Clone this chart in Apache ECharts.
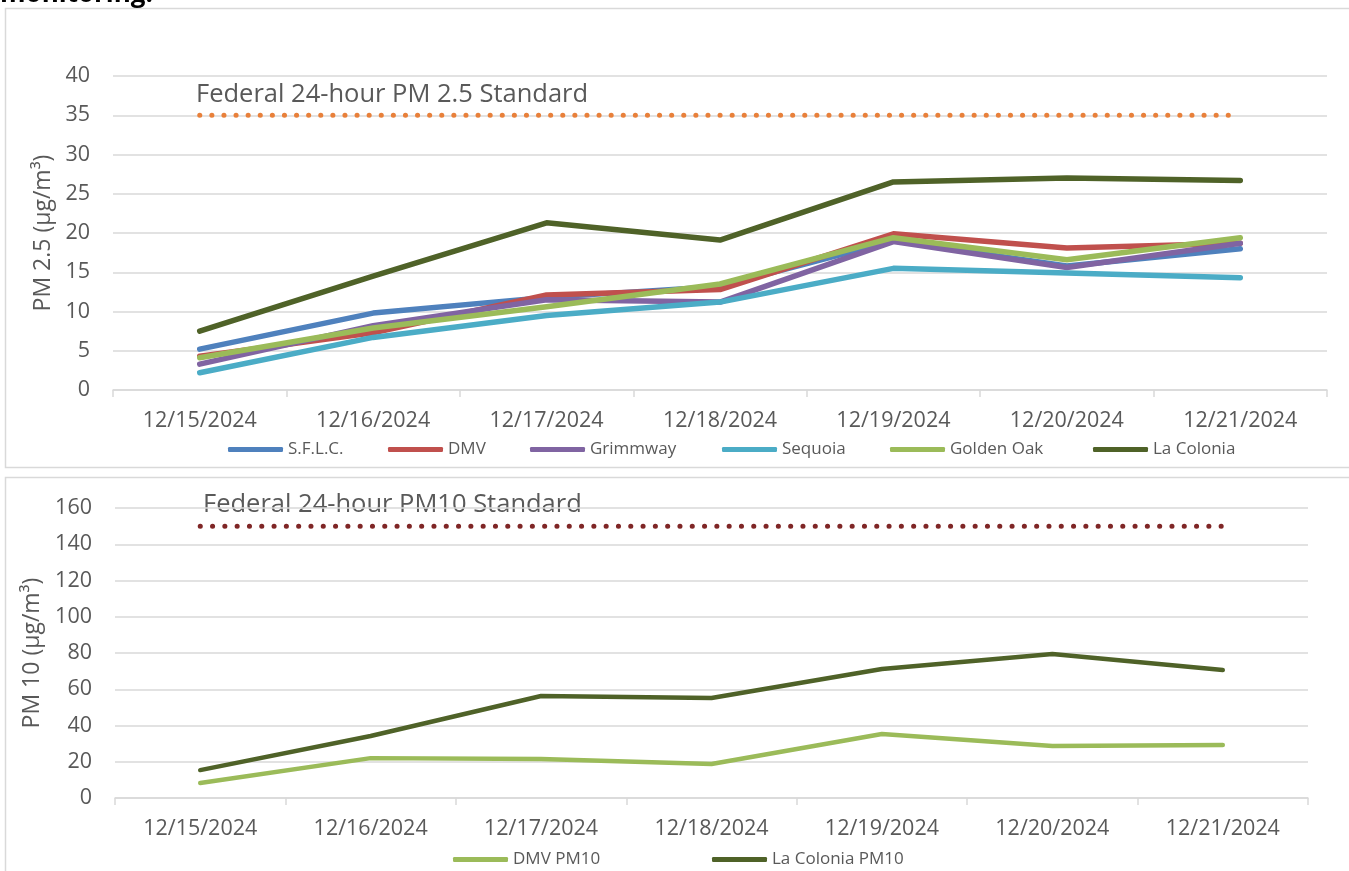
<!DOCTYPE html>
<html>
<head>
<meta charset="utf-8">
<script src="https://cdn.jsdelivr.net/npm/echarts@6/dist/echarts.min.js"></script>
<style>
  html, body { margin: 0; padding: 0; background: #fff; }
  #chart { width: 1349px; height: 871px; }
</style>
</head>
<body>
<div id="chart"></div>
<script>
// categories shared by both panels
const dates = ['12/15/2024', '12/16/2024', '12/17/2024', '12/18/2024', '12/19/2024', '12/20/2024', '12/21/2024'];

// PM 2.5 daily averages (µg/m³)
const sflc       = [5.2, 9.8, 11.8, 13.2, 19.0, 15.8, 18.0];
const dmv        = [4.3, 7.3, 12.1, 12.8, 19.9, 18.1, 18.7];
const grimmway   = [3.3, 8.2, 11.5, 11.2, 18.9, 15.6, 18.7];
const sequoia    = [2.2, 6.7, 9.5, 11.2, 15.5, 14.9, 14.3];
const goldenOak  = [4.1, 7.9, 10.6, 13.5, 19.4, 16.6, 19.4];
const laColonia  = [7.5, 14.5, 21.3, 19.1, 26.5, 27.0, 26.7];
const std25      = [35, 35, 35, 35, 35, 35, 35];

// PM 10 daily averages (µg/m³)
const dmvPM10       = [8.3, 22.0, 21.5, 18.8, 35.3, 28.7, 29.2];
const laColoniaPM10 = [15.4, 34.2, 56.3, 55.2, 71.2, 79.4, 70.6];
const std10         = [150, 150, 150, 150, 150, 150, 150];

const FONT = 'Open Sans';
const TXT = '#595959';
const GRIDC = '#d9d9d9';

const chart = echarts.init(document.getElementById('chart'));

// helper for one line series
function lineSeries(name, data, color, width, axis) {
  return {
    name: name,
    type: 'line',
    data: data,
    xAxisIndex: axis,
    yAxisIndex: axis,
    symbol: 'none',
    silent: true,
    lineStyle: { color: color, width: width, cap: 'round', join: 'round' },
    itemStyle: { color: color }
  };
}

// one legend per item so the Excel-like spacing can be kept
function legendItem(name, left, top) {
  return {
    data: [name],
    left: left,
    top: top,
    padding: 0,
    icon: 'roundRect',
    itemWidth: 55,
    itemHeight: 5,
    textStyle: { color: TXT, fontSize: 17, fontFamily: FONT },
    selectedMode: false
  };
}

function xAxisFor(grid) {
  return {
    type: 'category',
    gridIndex: grid,
    data: dates,
    boundaryGap: true,
    axisLine: { lineStyle: { color: GRIDC, width: 1.5 } },
    axisTick: { show: true, length: 7, lineStyle: { color: GRIDC, width: 1.5 } },
    axisLabel: { color: TXT, fontSize: 21.5, fontFamily: FONT, margin: 20 },
    splitLine: { show: false }
  };
}

function yAxisFor(grid, name, max, interval, gap) {
  return {
    type: 'value',
    gridIndex: grid,
    min: 0,
    max: max,
    interval: interval,
    name: name,
    nameLocation: 'middle',
    nameGap: gap,
    nameRotate: 90,
    nameTextStyle: { color: TXT, fontSize: 23, fontFamily: FONT },
    axisLine: { show: false },
    axisTick: { show: false },
    axisLabel: { color: TXT, fontSize: 21.5, fontFamily: FONT, margin: 23 },
    splitLine: { lineStyle: { color: GRIDC, width: 1.5 } }
  };
}

const option = {
  backgroundColor: '#fff',
  animation: false,
  grid: [
    { left: 113, right: 22, top: 76, height: 314 },
    { left: 115, right: 41, top: 508, height: 290 }
  ],
  xAxis: [xAxisFor(0), xAxisFor(1)],
  yAxis: [
    yAxisFor(0, 'PM 2.5 (μg/m³)', 40, 5, 56),
    yAxisFor(1, 'PM 10 (μg/m³)', 160, 20, 64)
  ],
  legend: [
    legendItem('S.F.L.C.', 228, 441),
    legendItem('DMV', 388, 441),
    legendItem('Grimmway', 530, 441),
    legendItem('Sequoia', 722, 441),
    legendItem('Golden Oak', 890, 441),
    legendItem('La Colonia', 1093, 441),
    legendItem('DMV PM10', 453, 851),
    legendItem('La Colonia PM10', 712, 851)
  ],
  graphic: [
    // panel borders
    { type: 'rect', shape: { x: 5.5, y: 8.5, width: 1400, height: 459 }, style: { fill: 'none', stroke: GRIDC, lineWidth: 1.5 }, silent: true },
    { type: 'rect', shape: { x: 5.5, y: 477.5, width: 1400, height: 500 }, style: { fill: 'none', stroke: GRIDC, lineWidth: 1.5 }, silent: true },
    // tail of the document heading above the chart, mostly cut off
    { type: 'text', x: 0, y: 8, style: { text: 'monitoring.', font: 'bold 26px "Open Sans"', fill: '#000', textVerticalAlign: 'bottom' }, silent: true },
    { type: 'text', x: 196, y: 95, style: { text: 'Federal 24-hour PM 2.5 Standard', font: '25.5px "Open Sans"', fill: TXT, textVerticalAlign: 'middle' }, silent: true },
    { type: 'text', x: 203, y: 505, style: { text: 'Federal 24-hour PM10 Standard', font: '25.5px "Open Sans"', fill: TXT, textVerticalAlign: 'middle' }, silent: true }
  ],
  series: [
    {
      name: 'std25', type: 'line', data: std25, xAxisIndex: 0, yAxisIndex: 0, symbol: 'none', silent: true,
      lineStyle: { color: '#E8803A', width: 5, type: [0.1, 12], cap: 'round' }
    },
    lineSeries('S.F.L.C.', sflc, '#4F81BD', 5.5, 0),
    lineSeries('DMV', dmv, '#C0504D', 5.5, 0),
    lineSeries('Grimmway', grimmway, '#8064A2', 5.5, 0),
    lineSeries('Sequoia', sequoia, '#4BACC6', 5.5, 0),
    lineSeries('Golden Oak', goldenOak, '#9BBB59', 5.5, 0),
    lineSeries('La Colonia', laColonia, '#4F6228', 5.5, 0),
    {
      name: 'std10', type: 'line', data: std10, xAxisIndex: 1, yAxisIndex: 1, symbol: 'none', silent: true,
      lineStyle: { color: '#7F2626', width: 5, type: [0.1, 12.2], cap: 'round' }
    },
    lineSeries('DMV PM10', dmvPM10, '#9BBB59', 4.5, 1),
    lineSeries('La Colonia PM10', laColoniaPM10, '#4F6228', 4.5, 1)
  ]
};

chart.setOption(option);
</script>
</body>
</html>
